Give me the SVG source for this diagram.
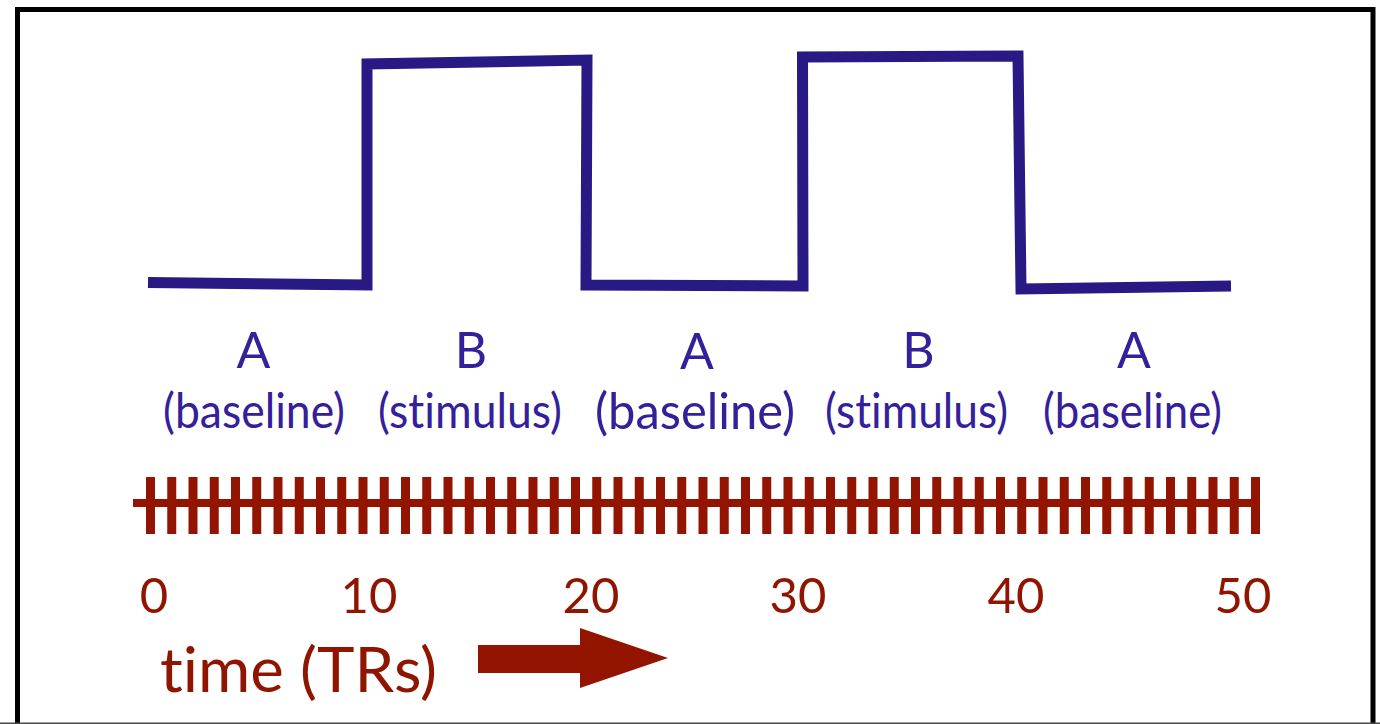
<svg xmlns="http://www.w3.org/2000/svg" width="1380" height="724" viewBox="0 0 1380 724">
<style>
text{font-variant-ligatures:none;font-feature-settings:"liga" 0,"clig" 0}
.lbl{font-family:Lato,"Open Sans","Liberation Sans",sans-serif;fill:#33209a;text-anchor:middle}
.big{font-size:50px}
.sub{font-size:48px}
.num{font-family:Lato,"Open Sans","Liberation Sans",sans-serif;fill:#8f1500;font-size:49px;text-anchor:middle}
.time{font-family:Lato,"Open Sans","Liberation Sans",sans-serif;fill:#8f1500;font-size:61px}
</style>
<rect width="1380" height="724" fill="#ffffff"/>
<g id="frame">
<rect x="17.5" y="9.5" width="1355.5" height="730" fill="none" stroke="#000000" stroke-width="5"/>
<line x1="0" y1="723.2" x2="1380" y2="723.2" stroke="#4a4a4a" stroke-width="1.6"/>
</g>
<g id="connectors">
<path id="waveform" d="M148,282.5 L367,285 L367,64 L587,60 L586,285 L803,286 L802.5,57 L1018,56 L1021,289 L1231,286" fill="none" stroke="#291985" stroke-width="11" stroke-linejoin="miter" stroke-miterlimit="10"/>
</g>
<g id="labels">
<g id="seg1"><text class="lbl big" x="253.5" y="368">A</text><text class="lbl sub" x="254" y="428" textLength="182" lengthAdjust="spacingAndGlyphs">(baseline)</text></g>
<g id="seg2"><text class="lbl big" x="471" y="368">B</text><text class="lbl sub" x="470" y="428" textLength="184" lengthAdjust="spacingAndGlyphs">(stimulus)</text></g>
<g id="seg3"><text class="lbl big" x="697" y="369">A</text><text class="lbl sub" x="695" y="429" textLength="200" lengthAdjust="spacingAndGlyphs" style="font-size:51px">(baseline)</text></g>
<g id="seg4"><text class="lbl big" x="918.5" y="368">B</text><text class="lbl sub" x="916.5" y="428" textLength="183" lengthAdjust="spacingAndGlyphs">(stimulus)</text></g>
<g id="seg5"><text class="lbl big" x="1134" y="368">A</text><text class="lbl sub" x="1132.5" y="428" textLength="179" lengthAdjust="spacingAndGlyphs">(baseline)</text></g>
</g>
<g id="axis">
<rect x="133" y="499" width="1127" height="8" fill="#931400"/>
<path fill="none" stroke="#931400" stroke-width="9" d="M150.5,477v57m21.25,-57v57m21.25,-57v57m21.25,-57v57m21.25,-57v57m21.25,-57v57m21.25,-57v57m21.25,-57v57m21.25,-57v57m21.25,-57v57m21.25,-57v57m21.25,-57v57m21.25,-57v57m21.25,-57v57m21.25,-57v57m21.25,-57v57m21.25,-57v57m21.25,-57v57m21.25,-57v57m21.25,-57v57m21.25,-57v57m21.25,-57v57m21.25,-57v57m21.25,-57v57m21.25,-57v57m21.25,-57v57m21.25,-57v57m21.25,-57v57m21.25,-57v57m21.25,-57v57m21.25,-57v57m21.25,-57v57m21.25,-57v57m21.25,-57v57m21.25,-57v57m21.25,-57v57m21.25,-57v57m21.25,-57v57m21.25,-57v57m21.25,-57v57m21.25,-57v57m21.25,-57v57m21.25,-57v57m21.25,-57v57m21.25,-57v57m21.25,-57v57m21.25,-57v57m21.25,-57v57m21.25,-57v57m21.25,-57v57m21.25,-57v57m21.25,-57v57m21.25,-57v57"/>
<text class="num" x="154" y="613">0</text>
<text class="num" x="369" y="613">10</text>
<text class="num" x="591" y="613">20</text>
<text class="num" x="798" y="613">30</text>
<text class="num" x="1016" y="613">40</text>
<text class="num" x="1243" y="613">50</text>
</g>
<g id="time-label">
<text class="time" x="160" y="692" textLength="277" lengthAdjust="spacingAndGlyphs">time (TRs)</text>
<polygon id="time-arrow" points="478,645 580,645 580,628 668,658 580,688 580,673 478,673" fill="#931400"/>
</g>
</svg>
